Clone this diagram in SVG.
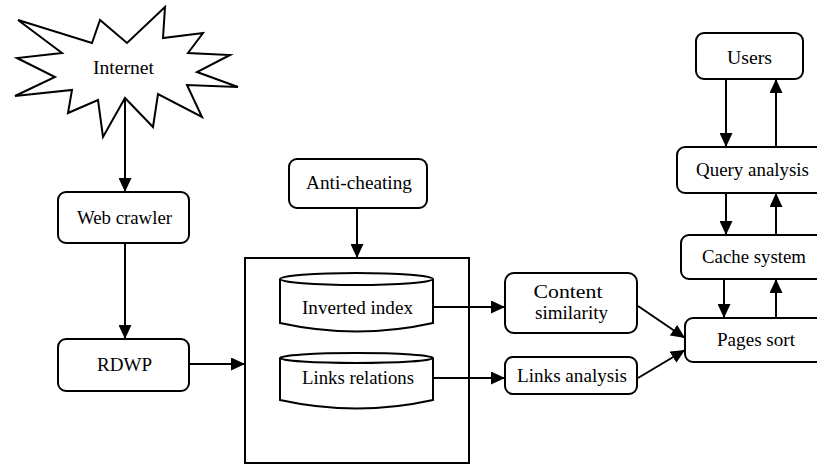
<svg xmlns="http://www.w3.org/2000/svg" width="817" height="466" viewBox="0 0 817 466">
<defs>
<marker id="ah" markerUnits="userSpaceOnUse" markerWidth="15" markerHeight="13" refX="14" refY="6.5" orient="auto">
<path d="M0,0 L14,6.5 L0,13 z" fill="#000"/>
</marker>
<style>
.b{fill:#fff;stroke:#000;stroke-width:2}
text{font-size:18.5px;fill:#000;text-anchor:middle;dominant-baseline:central}
.c{fill:none;stroke:#000;stroke-width:2;marker-end:url(#ah)}
</style>
</defs>
<rect width="817" height="466" fill="#fff"/>
<g id="internet">
<polygon class="b" points="18,20 92,43 100,20 127,43 165,7 163,38 203,33 188,53 230,55 197,72 238,87 187,85 202,117 158,94 153,127 125,98 103,137 98,100 68,113 72,90 15,96 55,77 17,58 62,53"/>
<text x="123.5" y="68" font-family="Liberation Serif, DejaVu Serif, serif" textLength="61" lengthAdjust="spacingAndGlyphs">Internet</text>
</g>
<g id="webcrawler">
<rect class="b" x="58" y="192" width="131" height="51" rx="8"/>
<text x="124.5" y="218" font-family="Liberation Serif, DejaVu Serif, serif" textLength="95" lengthAdjust="spacingAndGlyphs">Web crawler</text>
</g>
<g id="rdwp">
<rect class="b" x="58" y="339" width="131" height="52" rx="8"/>
<text x="124.5" y="365" font-family="Liberation Serif, DejaVu Serif, serif" textLength="55" lengthAdjust="spacingAndGlyphs">RDWP</text>
</g>
<g id="anticheating">
<rect class="b" x="289" y="159" width="138" height="49" rx="8"/>
<text x="359" y="183" font-family="Liberation Serif, DejaVu Serif, serif" textLength="106" lengthAdjust="spacingAndGlyphs">Anti-cheating</text>
</g>
<g id="indexbox">
<rect class="b" x="245" y="258" width="224" height="205"/>
</g>
<g id="invertedindex">
<path class="b" d="M280,279 L280,323 Q357,340 433,323 L433,279"/>
<ellipse class="b" cx="356.5" cy="279" rx="76.5" ry="6"/>
<text x="357.5" y="308" font-family="Liberation Serif, DejaVu Serif, serif" textLength="111" lengthAdjust="spacingAndGlyphs">Inverted index</text>
</g>
<g id="linksrelations">
<path class="b" d="M280,358 L280,400 Q357,417 433,400 L433,358"/>
<ellipse class="b" cx="356.5" cy="358" rx="76.5" ry="5"/>
<text x="358" y="378" font-family="Liberation Serif, DejaVu Serif, serif" textLength="112" lengthAdjust="spacingAndGlyphs">Links relations</text>
</g>
<g id="contentsimilarity">
<rect class="b" x="505" y="273" width="132" height="60" rx="9"/>
<text x="568" y="292" font-family="Liberation Serif, DejaVu Serif, serif" textLength="69" lengthAdjust="spacingAndGlyphs">Content</text>
<text x="571.5" y="313" font-family="Liberation Serif, DejaVu Serif, serif" textLength="73" lengthAdjust="spacingAndGlyphs">similarity</text>
</g>
<g id="linksanalysis">
<rect class="b" x="505" y="357" width="132" height="37" rx="8"/>
<text x="572" y="376" font-family="Liberation Serif, DejaVu Serif, serif" textLength="110" lengthAdjust="spacingAndGlyphs">Links analysis</text>
</g>
<g id="users">
<rect class="b" x="696" y="33" width="107" height="46" rx="8"/>
<text x="749.5" y="58" font-family="Liberation Serif, DejaVu Serif, serif" textLength="45" lengthAdjust="spacingAndGlyphs">Users</text>
</g>
<g id="queryanalysis">
<rect class="b" x="677" y="147" width="200" height="46" rx="8"/>
<text x="752.5" y="170" font-family="Liberation Serif, DejaVu Serif, serif" textLength="113" lengthAdjust="spacingAndGlyphs">Query analysis</text>
</g>
<g id="cachesystem">
<rect class="b" x="681" y="235" width="200" height="44" rx="8"/>
<text x="754" y="257" font-family="Liberation Serif, DejaVu Serif, serif" textLength="104" lengthAdjust="spacingAndGlyphs">Cache system</text>
</g>
<g id="pagessort">
<rect class="b" x="685" y="318" width="200" height="44" rx="8"/>
<text x="756" y="340" font-family="Liberation Serif, DejaVu Serif, serif" textLength="78" lengthAdjust="spacingAndGlyphs">Pages sort</text>
</g>
<g id="connectors">
<line class="c" x1="125" y1="98" x2="125" y2="192"/>
<line class="c" x1="125" y1="243" x2="125" y2="339"/>
<line class="c" x1="189" y1="364" x2="245" y2="364"/>
<line class="c" x1="357" y1="208" x2="357" y2="258"/>
<line class="c" x1="433" y1="307" x2="505" y2="307"/>
<line class="c" x1="433" y1="378" x2="505" y2="378"/>
<line class="c" x1="638" y1="306" x2="685" y2="338"/>
<line class="c" x1="638" y1="378" x2="685" y2="350"/>
<line class="c" x1="726" y1="79" x2="726" y2="147"/>
<line class="c" x1="776" y1="147" x2="776" y2="79"/>
<line class="c" x1="726" y1="193" x2="726" y2="235"/>
<line class="c" x1="776" y1="235" x2="776" y2="193"/>
<line class="c" x1="724" y1="279" x2="724" y2="318"/>
<line class="c" x1="776" y1="318" x2="776" y2="279"/>
</g>
</svg>
